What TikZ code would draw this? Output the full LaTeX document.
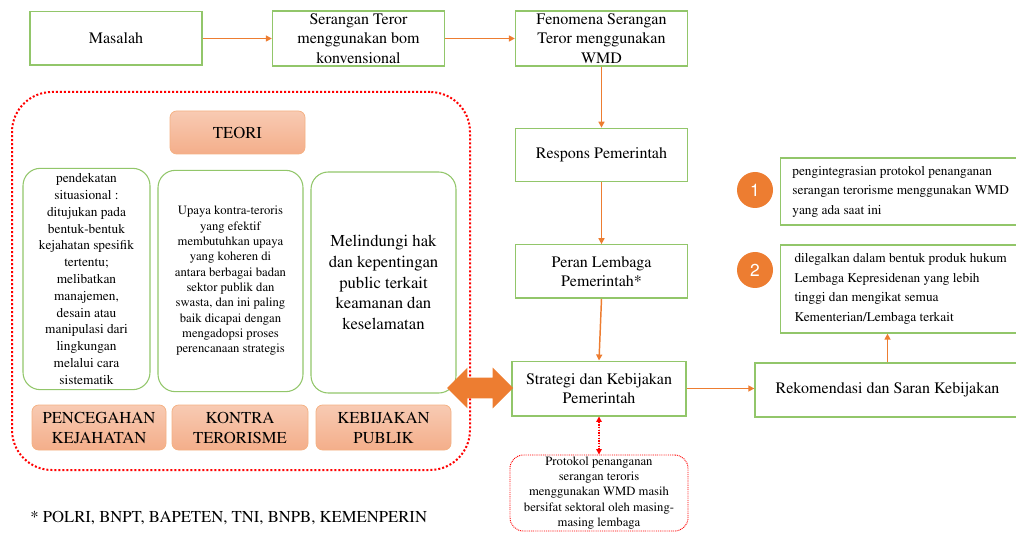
\documentclass[tikz,border=0pt]{standalone}
\usepackage[T1]{fontenc}
\usepackage{times}
\usetikzlibrary{arrows.meta,positioning,shapes.arrows}
\definecolor{grn}{HTML}{92C66A}
\definecolor{orng}{HTML}{ED7D31}
\definecolor{salmon}{HTML}{F4AE8A}
\definecolor{redline}{HTML}{FF0000}

\begin{document}
\begin{tikzpicture}[x=0.75pt, y=-0.75pt,
    box/.style={draw=grn, line width=1pt, fill=white, minimum width=129pt, minimum height=40pt,
                align=center, inner sep=2pt, font=\fontsize{12}{14.5}\selectfont},
    theo/.style={draw=grn, line width=0.8pt, rounded corners=13pt, align=center,
                 minimum height=166pt, inner sep=2pt},
    hdr/.style={draw=orng!60, line width=0.6pt, top color=salmon!65, bottom color=salmon,
                rounded corners=5pt, align=center, minimum height=33.75pt,
                font=\fontsize{12.5}{15}\selectfont},
    note/.style={draw=grn, line width=1pt, minimum width=180pt, align=left, anchor=west,
                 inner sep=4pt, font=\fontsize{10}{14.6}\selectfont},
    numc/.style={circle, fill=orng, minimum size=27pt, inner sep=0pt, text=white,
                 font=\sffamily\fontsize{13}{13}\selectfont},
    arr/.style={-{Triangle[length=4.5pt,width=4.5pt]}, draw=orng, line width=1.1pt},
    rdarr/.style={{Triangle[length=4pt,width=4pt]}-{Triangle[length=4pt,width=4pt]},
                  draw=redline, fill=redline, line width=1.1pt, dash pattern=on 1pt off 1pt}
]
\useasboundingbox (0,0) rectangle (1016,534);

% alur utama
\node[box] (mas) at (116,38.5) {Masalah};
\node[box] (ser) at (358.5,38.5) {Serangan Teror\\menggunakan bom\\konvensional};
\node[box] (fen) at (601.5,38.5) {Fenomena Serangan\\Teror menggunakan\\WMD};
\node[box] (resp) at (601.5,155) {Respons Pemerintah};
\node[box] (per) at (601.5,271.5) {Peran Lembaga\\Pemerintah*};
\node[box, minimum width=130.5pt, minimum height=41pt] (strat) at (599,388.5) {Strategi dan Kebijakan\\Pemerintah};
\node[box, minimum width=198.75pt, minimum height=40.5pt] (rek) at (887.5,390) {Rekomendasi dan Saran Kebijakan};

\draw[arr] (mas.east) -- (ser.west);
\draw[arr] (ser.east) -- (fen.west);
\draw[arr] (fen.south) -- (resp.north);
\draw[arr] (resp.south) -- (per.north);
\draw[arr] (per.south) -- (strat.north);
\draw[arr] (strat.east) -- (strat.east -| rek.west);

% rekomendasi
\node[note, minimum height=50.25pt] (n1) at (780,191.5) {pengintegrasian protokol penanganan\\serangan terorisme menggunakan WMD\\yang ada saat ini};
\node[note, minimum height=66pt] (n2) at (780,289) {dilegalkan dalam bentuk produk hukum\\Lembaga Kepresidenan yang lebih\\tinggi dan mengikat semua\\Kementerian/Lembaga terkait};
\node[numc] (c1) at (755,190) {1};
\node[numc] (c2) at (755,270) {2};
\draw[arr] (rek.north) -- (rek.north |- n2.south);

% protokol
\node[draw=redline, line width=0.7pt, dash pattern=on 0.7pt off 0.7pt, rounded corners=10pt,
      minimum width=133.5pt, minimum height=57pt, align=center, inner sep=1pt,
      font=\fontsize{9.5}{11.4}\selectfont] (prot) at (599,493)
      {Protokol penanganan\\serangan teroris\\menggunakan WMD masih\\bersifat sektoral oleh masing-\\masing lembaga};
\draw[rdarr] (strat.south) -- (prot.north);

% teori
\node[draw=redline, line width=1.5pt, dash pattern=on 1.5pt off 1.5pt, rounded corners=30pt,
      minimum width=343.5pt, minimum height=283.5pt] (frm) at (241,281) {};
\node[hdr, minimum width=101.25pt, minimum height=32.25pt] (teori) at (237.5,132.5) {TEORI};
\node[theo, minimum width=95.25pt, font=\fontsize{10}{12.6}\selectfont] (t1) at (86.5,279)
      {pendekatan\\situasional :\\ditujukan pada\\bentuk-bentuk\\kejahatan spesifik\\tertentu;\\melibatkan\\manajemen,\\desain atau\\manipulasi dari\\lingkungan\\melalui cara\\sistematik};
\node[theo, minimum width=108.75pt, font=\fontsize{9.5}{11.5}\selectfont] (t2) at (230.5,281)
      {Upaya kontra-teroris\\yang efektif\\membutuhkan upaya\\yang koheren di\\antara berbagai badan\\sektor publik dan\\swasta, dan ini paling\\baik dicapai dengan\\mengadopsi proses\\perencanaan strategis};
\node[theo, minimum width=108.75pt, minimum height=165.75pt, font=\fontsize{12.5}{15.4}\selectfont] (t3) at (383.5,282.5)
      {Melindungi hak\\dan kepentingan\\public terkait\\keamanan dan\\keselamatan};
\node[hdr, minimum width=100.5pt] (h1) at (99,427.5) {PENCEGAHAN\\KEJAHATAN};
\node[hdr, minimum width=102pt] (h2) at (240,427.5) {KONTRA\\TERORISME};
\node[hdr, minimum width=101.25pt] (h3) at (383.5,427.5) {KEBIJAKAN\\PUBLIK};

\node[double arrow, fill=orng, inner sep=0pt, text height=15pt, text depth=0pt,
      minimum height=49.5pt, double arrow head extend=7.5pt] (dbl) at (480,388) {};

\node[anchor=west, inner sep=0pt, font=\fontsize{12.5}{15}\selectfont] (fn) at (30,518)
      {* POLRI, BNPT, BAPETEN, TNI, BNPB, KEMENPERIN};
\end{tikzpicture}
\end{document}
